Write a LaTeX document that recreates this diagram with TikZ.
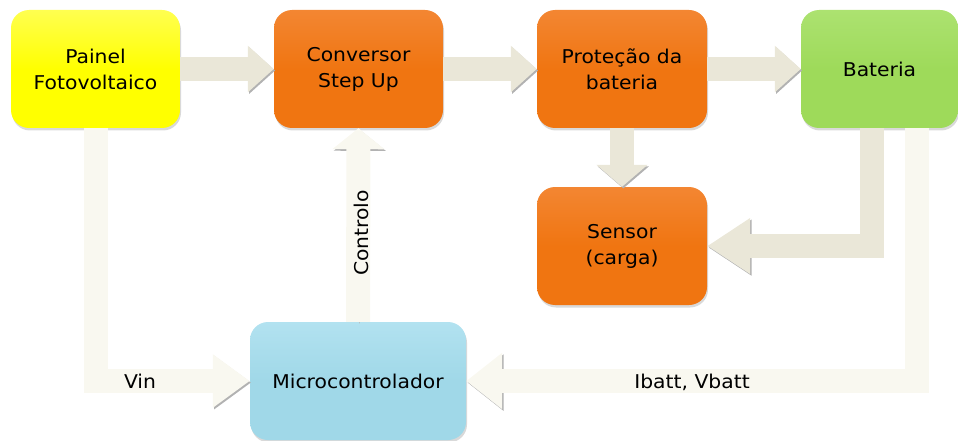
\documentclass[tikz,border=0pt]{standalone}
\usepackage{fontspec}
\setmainfont{DejaVu Sans}[FakeStretch=1.07]
\usetikzlibrary{arrows.meta,shadows}
\definecolor{ylw}{RGB}{255,255,0}
\definecolor{ylwtop}{RGB}{255,255,80}
\definecolor{org}{RGB}{240,117,17}
\definecolor{orgtop}{RGB}{243,134,50}
\definecolor{grn}{RGB}{158,218,90}
\definecolor{grntop}{RGB}{172,226,112}
\definecolor{blu}{RGB}{160,216,232}
\definecolor{blutop}{RGB}{178,226,240}
\definecolor{creamdark}{RGB}{234,231,216}
\definecolor{creamlight}{RGB}{249,248,240}
\begin{document}
\begin{tikzpicture}[x=1pt,y=-1pt,
  box/.style={rounded corners=18pt, minimum height=118pt, inner sep=0pt, align=center,
    font=\fontsize{19}{26}\selectfont,
    drop shadow={shadow xshift=1pt, shadow yshift=-2.5pt, opacity=0.3}},
  lbl/.style={inner sep=0pt, font=\fontsize{19}{23}\selectfont},
  arr/.style={line width=24pt, draw=#1,
    preaction={draw=black!30, transform canvas={shift={(1.3pt,-1.6pt)}}}},
  tipsz/.style 2 args={-{Triangle[length=#1pt,width=#2pt]}}
]
\useasboundingbox (0,0) rectangle (958,441);

% boxes
\node[box, minimum width=169pt, top color=ylwtop, bottom color=ylw, middle color=ylw] (pv) at (95.5,69) {Painel\\Fotovoltaico};
\node[box, minimum width=169pt, top color=orgtop, bottom color=org, middle color=org] (cv) at (358.5,69) {Conversor\\Step Up};
\node[box, minimum width=170pt, top color=orgtop, bottom color=org, middle color=org] (pr) at (622,69) {Proteção da\\bateria};
\node[box, minimum width=157pt, top color=grntop, bottom color=grn, middle color=grn] (bt) at (879.5,69) {Bateria};
\node[box, minimum width=170pt, top color=orgtop, bottom color=org, middle color=org] (sn) at (622,246) {Sensor\\(carga)};
\node[box, minimum width=216pt, top color=blutop, bottom color=blu, middle color=blu] (mc) at (358,381) {Microcontrolador};

% block arrows
\draw[arr=creamdark, tipsz={26}{45}] (pv.east) -- (cv.west);
\draw[arr=creamdark, tipsz={26}{45}] (cv.east) -- (pr.west);
\draw[arr=creamdark, tipsz={26}{45}] (pr.east) -- (bt.west);
\draw[arr=creamdark, tipsz={22}{50}] (pr.south) -- (sn.north);
\draw[arr=creamdark, tipsz={43}{53}] ([xshift=-8pt]bt.south) |- (sn.east);
\draw[arr=creamlight, tipsz={36}{54}] ([xshift=37.5pt]bt.south) |- (mc.east);
\draw[arr=creamlight, tipsz={37}{51}] (pv.south) |- (mc.west);
\draw[arr=creamlight, tipsz={21}{51}] (mc.north) -- (cv.south);

% labels
\node[lbl] (vin) at (140,381) {Vin};
\node[lbl] (ib) at (692,382) {Ibatt, Vbatt};
\node[lbl, rotate=90] (ctl) at (361,233) {Controlo};
\end{tikzpicture}
\end{document}
